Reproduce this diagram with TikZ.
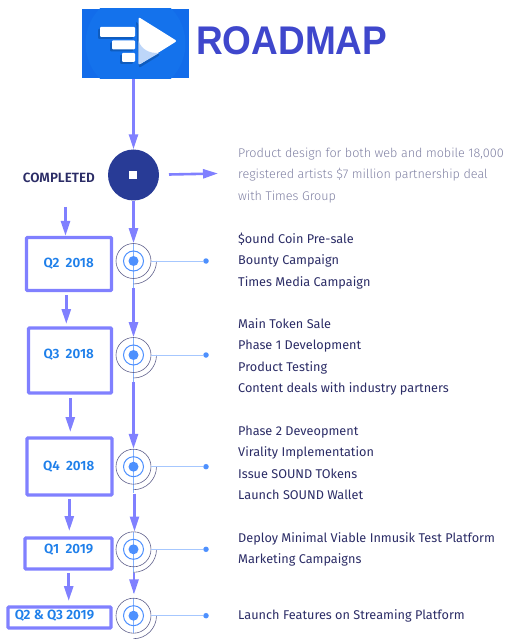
\documentclass[tikz,border=0pt]{standalone}
\usepackage{fontspec}
\setmainfont{Fira Sans}
\newfontfamily\titlefont{Liberation Sans}
\newfontfamily\thinfont{Fira Sans Light}
\newfontfamily\semifont{Fira Sans SemiBold}
\usetikzlibrary{arrows.meta,positioning,calc}
\definecolor{flow}{HTML}{8080FF}
\definecolor{logoblue}{HTML}{126CEA}
\definecolor{logoround}{HTML}{1472EC}
\definecolor{logoshade}{HTML}{0F5CBE}
\definecolor{navy}{HTML}{283B96}
\definecolor{inkblue}{HTML}{2B2C66}
\definecolor{dotblue}{HTML}{4D90FE}
\definecolor{quarter}{HTML}{1E7FEA}
\definecolor{titleblue}{HTML}{3F47CC}
\begin{document}
\begin{tikzpicture}[x=1pt,y=-1pt,
arr/.style={flow,line width=2.6pt,-{Triangle[length=15pt,width=9pt]}},
qbox/.style={draw=flow,line width=3.2pt,rounded corners=0.8pt,inner sep=0pt,fill=white},
qtext/.style={text=quarter,font=\semifont\fontsize{13.4}{15}\selectfont,inner sep=0pt},
ringc/.style={circle,draw=inkblue!75,line width=0.6pt,minimum size=35pt,inner sep=0pt},
notes/.style={anchor=west,align=left,inner sep=0pt,text=inkblue,font=\fontsize{12.7}{21.4}\selectfont}]
\useasboundingbox (0,0) rectangle (520,644);
\node[fill=logoblue,minimum width=107pt,minimum height=69pt,inner sep=0pt] (logo) at (135.5,43.5){};
\begin{scope}
\clip (logo.south west) rectangle (logo.north east);
\fill[logoround] (135.5,43.5) circle[radius=50pt];
\end{scope}
\fill[logoshade,rounded corners=1pt] (98,29) rectangle (133,39);\fill[logoshade,rounded corners=1pt] (110,42.5) rectangle (133,51.5);\fill[logoshade,rounded corners=1pt] (120,55) rectangle (133,64);
\fill[white,rounded corners=1pt] (100,27) rectangle (135,37);\fill[white,rounded corners=1pt] (112,40.5) rectangle (135,49.5);\fill[white,rounded corners=1pt] (122,53) rectangle (135,62);
\fill[logoshade,rounded corners=2pt] (136,21) -- (139,68) -- (160,55) -- cycle;
\fill[white,rounded corners=2pt] (138.5,17) -- (177,41) -- (138.5,65) -- cycle;
\fill[white!72!logoblue,rounded corners=1.5pt] (138.5,40) .. controls (141,49) and (150,54) .. (160,52.5) -- (138.5,65) -- cycle;
\node[anchor=west,inner sep=0pt,text=titleblue,font=\titlefont\bfseries\fontsize{40}{40}\selectfont] (title) at (196,41){\scalebox{0.925}[1]{ROADMAP}};
\node[circle,fill=navy,minimum size=51pt,inner sep=0pt] (done) at (133.5,175){};
\node[fill=white,minimum size=8pt,inner sep=0pt] (donemark) at (133,175.5){};
\node[anchor=east,inner sep=0pt,text=inkblue,font=\semifont\fontsize{13.4}{15}\selectfont] (donetext) at (95,177.5){COMPLETED};
\node[anchor=west,align=left,inner sep=0pt,text=inkblue!60,font=\thinfont\fontsize{12.6}{21.9}\selectfont] (donenote) at (238,175.5){Product design for both web and mobile 18,000\\registered artists \$7 million partnership deal\\with Times Group};
\coordinate (notestart) at (169,174.5);\coordinate (noteend) at (218,173.5);
\draw[arr] (notestart) -- (noteend);
\foreach \n/\y/\e in {r1/261/9,r2/355/9,r3/466.7/9,r4/549.3/26,r5/615.7/0}{
\draw[dotblue!70,line width=1pt,shorten >=-\e pt] (133.7,\y-17.5) -- (133.7,\y+17.5);
\node[ringc] (\n) at (133.5,\y){};
\node[circle,draw=dotblue,line width=1pt,minimum size=20pt,inner sep=0pt] (\n in) at (\n){};
\node[circle,fill=dotblue,minimum size=10pt,inner sep=0pt] (\n dot) at (\n){};
\draw[inkblue!75,line width=0.6pt] ($(\n)+(23,0)$) arc[start angle=0,end angle=-90,radius=23pt];
\node[circle,fill=dotblue,minimum size=5.5pt,inner sep=0pt] (\n end) at (206,\y){};
\draw[dotblue!50,line width=0.8pt] (\n) ++(17.5,0) -- (\n end);
}
\node[qbox,minimum width=85pt,minimum height=53pt] (q1) at (69,264){};
\node[qbox,minimum width=83pt,minimum height=65pt] (q2) at (70,360.5){};
\node[qbox,minimum width=85pt,minimum height=57pt] (q3) at (69.5,466.5){};
\node[qbox,minimum width=87pt,minimum height=31pt] (q4) at (68.5,553.5){};
\node[qbox,minimum width=103pt,minimum height=21pt] (q5) at (59.5,617.5){};
\node[qtext] (q1text) at (68.7,263.5){Q2\hspace{3pt} 2018};
\node[qtext] (q2text) at (68.7,354.5){Q3\hspace{3pt} 2018};
\node[qtext] (q3text) at (68.7,466.5){Q4\hspace{3pt} 2018};
\node[qtext] (q4text) at (68.7,549.5){Q1\hspace{3pt} 2019};
\node[qtext] (q5text) at (54.5,616){Q2 \& Q3 2019};
\coordinate (qstart) at (65.5,207);
\draw[arr] (qstart) -- (q1.north -| qstart);
\draw[arr] (66.3,295) -- (66.3,324);
\draw[arr] (70.3,398) -- (70.3,432);
\draw[arr] (69.3,499) -- (69.3,531);
\draw[arr] (68.7,573) -- (68.7,601);
\draw[arr] (logo.south -| done) ++(0,1) -- (done.north);
\draw[arr] (done.south) -- (r1.north);
\draw[arr,shorten <=9pt] (r1.south) -- (r2.north);
\draw[arr,shorten <=9pt] (r2.south) -- (r3.north);
\draw[arr,shorten <=9pt] (r3.south) ++(1,0) -- ($(r4.north)+(1,0)$);
\draw[arr] ($(r4.south)+(0.5,6)$) -- ($(r5.north)+(0.5,-3.5)$);
\node[notes] (n1) at (238,261){\$ound Coin Pre-sale\\Bounty Campaign\\Times Media Campaign};
\node[notes] (n2) at (238,357){Main Token Sale\\Phase 1 Development\\Product Testing\\Content deals with industry partners};
\node[notes] (n3) at (238,463){Phase 2 Deveopment\\Virality Implementation\\Issue SOUND TOkens\\Launch SOUND Wallet};
\node[notes] (n4) at (238,549.5){Deploy Minimal Viable Inmusik Test Platform\\Marketing Campaigns};
\node[notes] (n5) at (238,616){Launch Features on Streaming Platform};
\end{tikzpicture}
\end{document}
